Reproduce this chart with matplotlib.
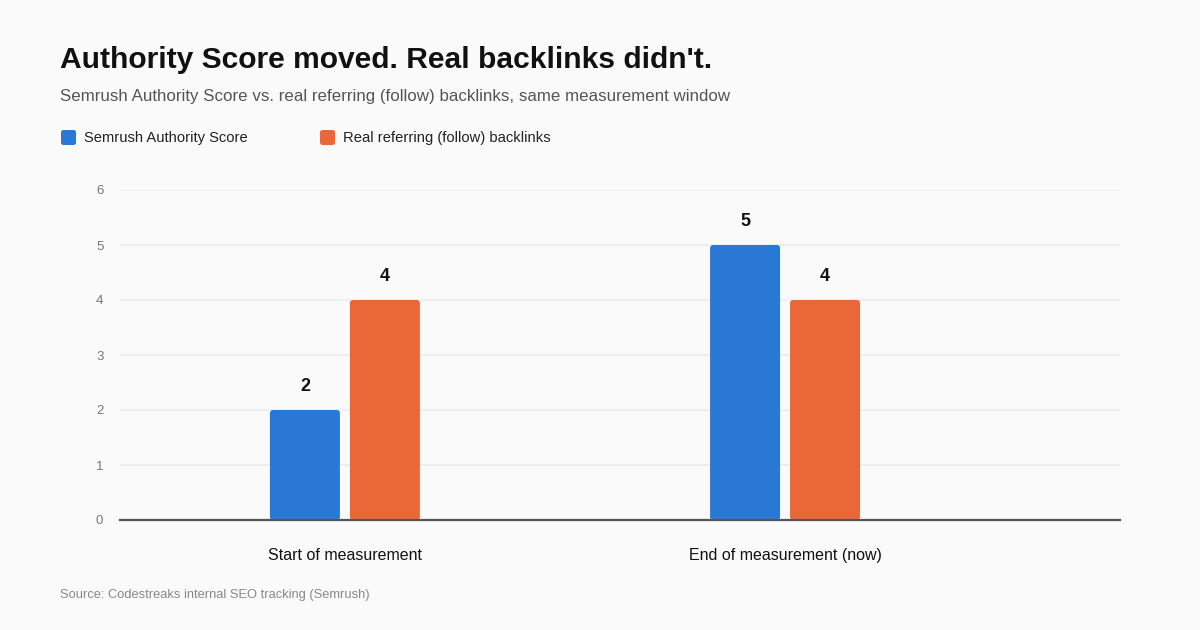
import numpy as np
import matplotlib.pyplot as plt
from matplotlib.patches import Rectangle, FancyBboxPatch

plt.rcParams['font.family'] = ['Liberation Sans', 'DejaVu Sans']

# data
categories = ['Start of measurement', 'End of measurement (now)']
series_names = ['Semrush Authority Score', 'Real referring (follow) backlinks']
authority = [2, 5]
backlinks = [4, 4]
colors = ['#2a78d6', '#ea6837']
yticks = [0, 1, 2, 3, 4, 5, 6]

W, H = 1200, 630
fig = plt.figure(figsize=(W / 100, H / 100), dpi=100)
fig.patch.set_facecolor('#fafafa')

# axes placed in pixel terms: x 120..1120, y 190..520
ax = fig.add_axes([120 / W, (H - 520) / H, 1000 / W, 330 / H])
ax.set_facecolor('#fafafa')

x = np.arange(len(categories))
bw = 0.159
gap = 0.0227
off = bw / 2 + gap / 2
for vals, c, sign in [(authority, colors[0], -1), (backlinks, colors[1], 1)]:
    for xi, v in zip(x, vals):
        x0 = xi + sign * off - bw / 2
        # rounded bar, aspect = (1/55)/(1/440) data units per px
        p = FancyBboxPatch((x0, 0), bw, v, boxstyle='round,pad=0,rounding_size=0.0068',
                           mutation_aspect=8, facecolor=c, edgecolor='none', zorder=3)
        ax.add_patch(p)
        ax.annotate(str(v), (x0 + bw / 2, v), xytext=(0, 11),
                    textcoords='offset points', ha='center', va='bottom',
                    fontsize=13, fontweight='bold', color='#111111')

ax.set_xlim(-0.511, 1.761)
ax.set_ylim(0, 6)
ax.set_yticks(yticks)
ax.set_yticklabels([str(t) for t in yticks], fontsize=9.5, color='#777777')
ax.set_xticks(x)
ax.set_xticklabels(categories, fontsize=11.5, color='#111111')
ax.tick_params(axis='y', length=0, pad=12)
ax.tick_params(axis='x', length=0, pad=20)
ax.grid(axis='y', color='#ececec', linewidth=1.2, zorder=0)
for s in ['top', 'right', 'left']:
    ax.spines[s].set_visible(False)
ax.spines['bottom'].set_color('#555555')
ax.spines['bottom'].set_linewidth(1.6)
ax.spines['bottom'].set_zorder(4)

# titles
fig.text(60 / W, 1 - 60 / H, "Authority Score moved. Real backlinks didn't.",
         fontsize=21.6, fontweight='bold', color='#111111', va='center', ha='left')
fig.text(60 / W, 1 - 97 / H,
         'Semrush Authority Score vs. real referring (follow) backlinks, same measurement window',
         fontsize=12.2, color='#555555', va='center', ha='left')

# legend
for lx, name, c in [(61, series_names[0], colors[0]), (320, series_names[1], colors[1])]:
    fig.patches.append(FancyBboxPatch((lx / W, 1 - 145 / H), 15 / W, 15 / H,
                                      boxstyle='round,pad=0,rounding_size=0.002',
                                      mutation_aspect=W / H,
                                      transform=fig.transFigure, facecolor=c,
                                      edgecolor='none'))
    fig.text((lx + 23) / W, 1 - 138 / H, name, fontsize=10.6, color='#222222',
             va='center', ha='left')

fig.text(60 / W, 1 - 595 / H, 'Source: Codestreaks internal SEO tracking (Semrush)',
         fontsize=9.3, color='#888888', va='center', ha='left')

fig.savefig('out.png', dpi=100, facecolor=fig.get_facecolor())
